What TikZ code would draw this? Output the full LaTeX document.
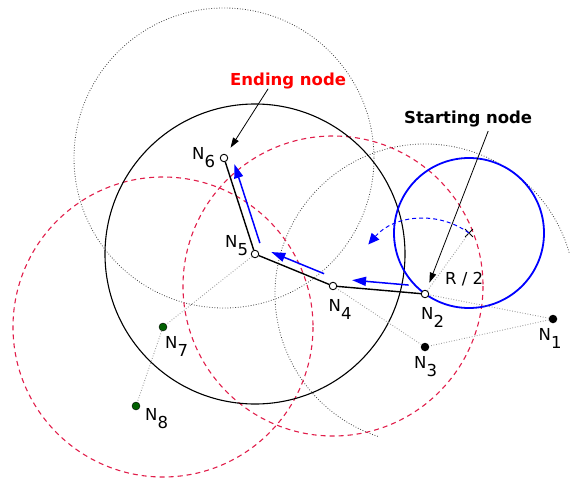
\documentclass[tikz,border=0pt]{standalone}
\usepackage{fontspec}
\setmainfont{DejaVu Sans}
\usetikzlibrary{calc,arrows.meta,shapes.misc}
\newcommand{\nlab}[1]{N\lower8pt\hbox{#1}}
\begin{document}
\begin{tikzpicture}[x=1pt,y=-1pt,font=\fontsize{16.5}{20}\selectfont,
  walkline/.style={line width=1.4pt},
  rangecirc/.style={line width=1.1pt},
  faintcirc/.style={black!75,line width=.8pt,dash pattern=on .8pt off 1.8pt},
  dashcirc/.style={rangered,line width=1.1pt,dash pattern=on 5pt off 4pt},
  linkline/.style={gray!80,line width=.9pt,dash pattern=on .8pt off 1.8pt},
  opendot/.style={circle,draw,fill=white,inner sep=0,minimum size=7.5pt,line width=.9pt},
  blackdot/.style={circle,fill=black,inner sep=0,minimum size=8.5pt},
  greendot/.style={circle,draw=black,fill=nodegreen,inner sep=0,minimum size=8pt,line width=.4pt},
  nlbl/.style={inner sep=0,anchor=base west},
  hoparrow/.style={blue,line width=1.5pt,-{Triangle[length=14pt,width=9pt]}},
  pointer/.style={line width=.8pt,-{Triangle[length=10pt,width=6.5pt]},shorten >=8pt}]
\definecolor{rangered}{RGB}{225,30,75}
\definecolor{nodegreen}{RGB}{0,95,0}
\useasboundingbox (0,0) rectangle (570,482);
\coordinate (p1) at (553,319);
\coordinate (p2) at (425,294);
\coordinate (p3) at (425,347);
\coordinate (p4) at (333,286);
\coordinate (p5) at (255,254);
\coordinate (p6) at (224,158);
\coordinate (p7) at (163,327);
\coordinate (p8) at (136,406);
\coordinate (ctr) at (469,233);
% ranges
\draw[faintcirc] (p6) circle[radius=150];
\draw[faintcirc] (p2) ++(-16:150) arc[start angle=-16,end angle=-252,radius=150];
\draw[dashcirc] (p4) circle[radius=150];
\draw[dashcirc] (p7) circle[radius=150];
\draw[rangecirc] (p5) circle[radius=150];
\draw[blue,line width=1.8pt] (ctr) circle[radius=75];
% nodes
\node[blackdot] (N1) at (p1) {};
\node[opendot] (N2) at (p2) {};
\node[blackdot] (N3) at (p3) {};
\node[opendot] (N4) at (p4) {};
\node[opendot] (N5) at (p5) {};
\node[opendot] (N6) at (p6) {};
\node[greendot] (N7) at (p7) {};
\node[greendot] (N8) at (p8) {};
\node[cross out,draw,inner sep=0,minimum size=7pt,line width=.8pt] (mid) at (ctr) {};
\node[nlbl] (l1) at (538.5,340) {\nlab{1}};
\node[nlbl] (l2) at (421,319.3) {\nlab{2}};
\node[nlbl] (l3) at (414,368.7) {\nlab{3}};
\node[nlbl] (l4) at (328.5,311) {\nlab{4}};
\node[nlbl] (l5) at (225,247.7) {\nlab{5}};
\node[nlbl] (l6) at (192,159.3) {\nlab{6}};
\node[nlbl] (l7) at (165,348.3) {\nlab{7}};
\node[nlbl] (l8) at (145,420) {\nlab{8}};
\node[nlbl] (half) at (445,284) {R / 2};
% links
\draw[linkline] (N1) -- (N2);
\draw[linkline] (N1) -- (N3);
\draw[linkline] (N3) -- (N4);
\draw[linkline] (N5) -- (N7);
\draw[linkline] (N7) -- (N8);
\draw[linkline] (N2) -- (mid.center);
\draw[walkline] (N2) -- (N4) -- (N5) -- (N6);
% moves
\draw[blue,line width=1pt,dash pattern=on 4pt off 3pt,-{Triangle[length=11pt,width=10pt]}] (mid.center) arc[start angle=-54,end angle=-139,radius=75];
\draw[hoparrow] ($(N2.center)!0.185!(N4.center)!7.5pt!-90:(N4.center)$) -- ($(N2.center)!0.8!(N4.center)!7.5pt!-90:(N4.center)$);
\draw[hoparrow] ($(N4.center)!0.153!(N5.center)!8pt!-90:(N5.center)$) -- ($(N4.center)!0.83!(N5.center)!8pt!-90:(N5.center)$);
\draw[hoparrow] ($(N5.center)!0.088!(N6.center)!8pt!-90:(N6.center)$) -- ($(N5.center)!0.91!(N6.center)!8pt!-90:(N6.center)$);
% callouts
\node[nlbl,font=\fontsize{16.5}{20}\selectfont\bfseries,text=red] (endlbl) at (230,85) {Ending node};
\node[nlbl,font=\fontsize{16.5}{20}\selectfont\bfseries] (startlbl) at (404,123.3) {Starting node};
\draw[pointer] ([xshift=-20pt]endlbl.south) -- (N6);
\draw[pointer] ([xshift=20pt,yshift=-4pt]startlbl.south) -- (N2);
\end{tikzpicture}
\end{document}
